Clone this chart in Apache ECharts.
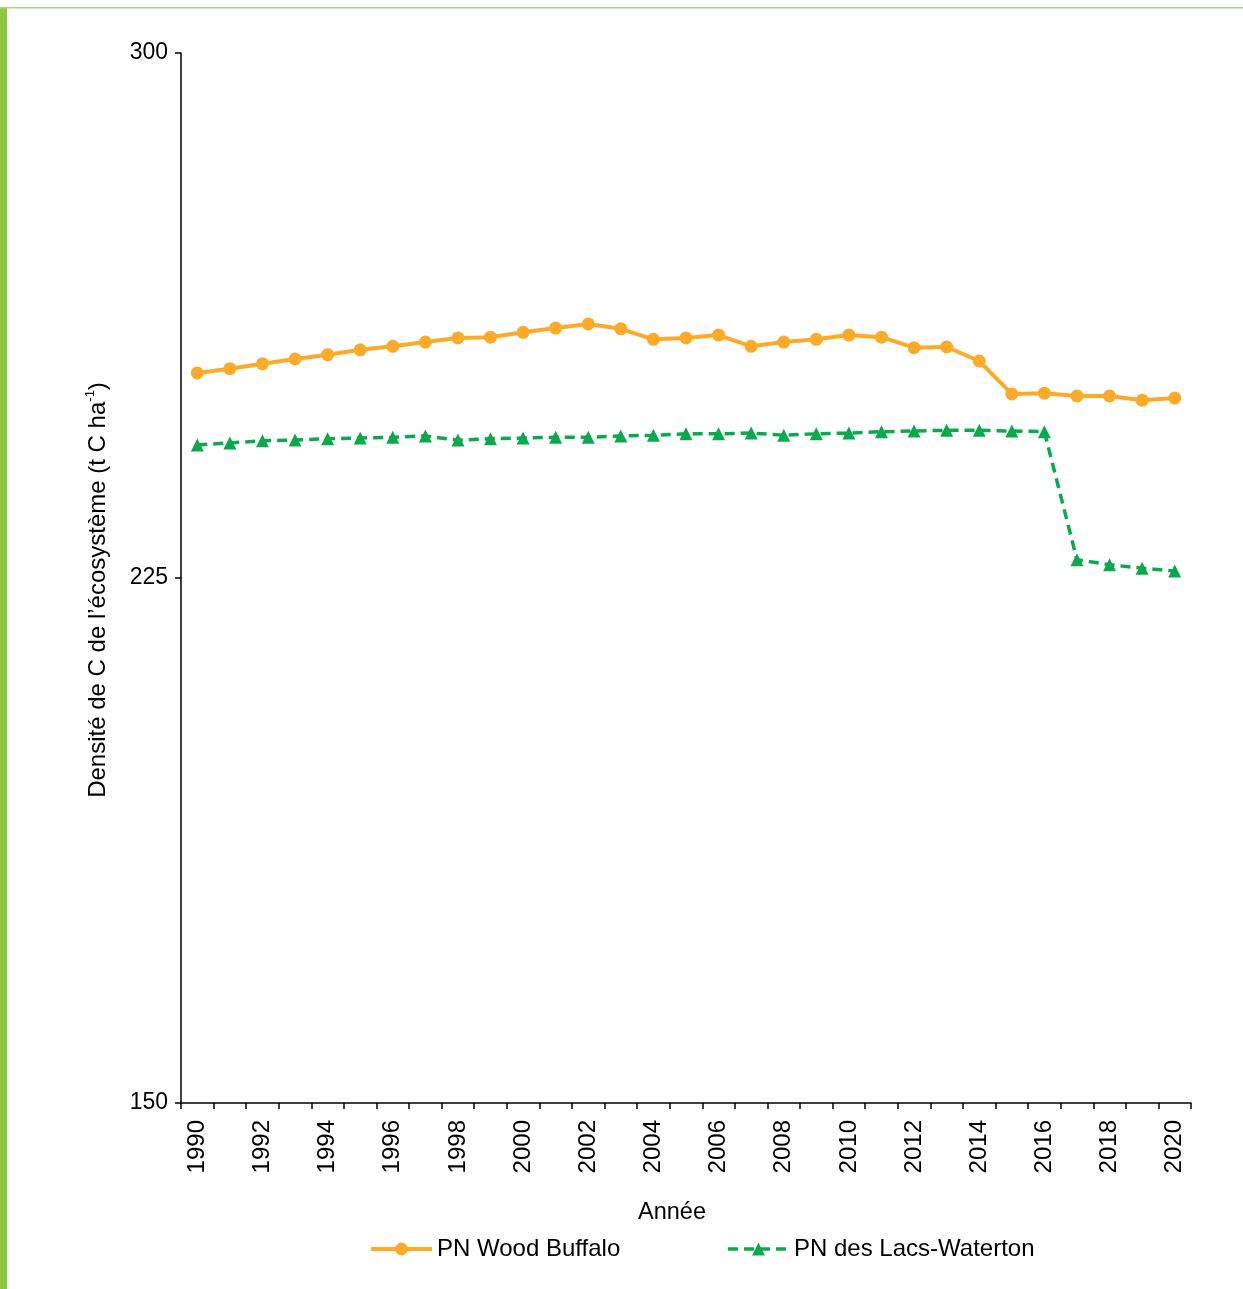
<!DOCTYPE html>
<html>
<head>
<meta charset="utf-8">
<script src="https://cdn.jsdelivr.net/npm/echarts@6/dist/echarts.min.js"></script>
<style>
html,body{margin:0;padding:0;background:#fff;}
#main{width:1243px;height:1289px;}
</style>
</head>
<body>
<div id="main"></div>
<script>
const years = ['1990','1991','1992','1993','1994','1995','1996','1997','1998','1999','2000','2001','2002','2003','2004','2005','2006','2007','2008','2009','2010','2011','2012','2013','2014','2015','2016','2017','2018','2019','2020'];
const woodBuffalo = [254.3,254.9,255.6,256.3,256.9,257.6,258.1,258.7,259.3,259.4,260.1,260.7,261.3,260.6,259.1,259.3,259.7,258.1,258.7,259.1,259.7,259.4,257.9,258.0,256.0,251.3,251.4,251.0,251.0,250.4,250.7];
const waterton = [244.0,244.3,244.6,244.7,244.9,245.0,245.1,245.3,244.7,244.9,245.0,245.1,245.1,245.3,245.4,245.6,245.6,245.7,245.4,245.6,245.7,245.9,246.0,246.1,246.1,246.0,245.9,227.6,226.9,226.4,226.0];
const yTicks = [150, 225, 300];
const seriesNames = ['PN Wood Buffalo', 'PN des Lacs-Waterton'];

const orange = '#FBAB28';
const green = '#0AAA4C';
const font = 'Liberation Sans, Arial, Helvetica, sans-serif';

const chart = echarts.init(document.getElementById('main'));
chart.setOption({
  animation: false,
  backgroundColor: '#fff',
  textStyle: {fontFamily: font},
  graphic: [
    {type: 'rect', left: 0, top: 7, shape: {width: 7, height: 1282}, style: {fill: '#8DC63F'}},
    {type: 'rect', left: 0, top: 7, shape: {width: 1243, height: 1.5}, style: {fill: '#A8D57A'}}
  ],
  grid: {left: 181, right: 52, top: 53, bottom: 186, containLabel: false},
  legend: {
    left: 364, top: 1232,
    itemWidth: 61, itemHeight: 16, itemGap: 106,
    textStyle: {fontSize: 24, color: '#000', fontFamily: font},
    data: [
      {name: seriesNames[0], lineStyle: {width: 4}},
      {name: seriesNames[1], lineStyle: {width: 3.5, type: [10, 6]}}
    ]
  },
  xAxis: {
    type: 'category',
    data: years,
    boundaryGap: true,
    name: 'Année',
    nameLocation: 'middle',
    nameGap: 98,
    nameTextStyle: {fontSize: 23.5, color: '#000', fontFamily: font, padding: [0, 28, 0, 0]},
    axisLine: {lineStyle: {color: '#000', width: 1.5}},
    axisTick: {show: true, inside: false, length: 6, alignWithLabel: false, interval: 0, lineStyle: {color: '#000', width: 1.5}},
    axisLabel: {rotate: 90, interval: 1, fontSize: 24, color: '#000', margin: 17, fontFamily: font},
    splitLine: {show: false}
  },
  yAxis: {
    type: 'value',
    min: 150, max: 300, interval: 75,
    name: 'Densité de C de l’écosystème (t C ha{sup|-1})',
    nameLocation: 'middle',
    nameGap: 69,
    nameTextStyle: {
      fontSize: 24, color: '#000', fontFamily: font, lineHeight: 28,
      padding: [0, 24, 0, 0],
      rich: {sup: {fontSize: 13, verticalAlign: 'top', lineHeight: 28, color: '#000', fontFamily: font}}
    },
    axisLine: {show: true, lineStyle: {color: '#000', width: 1.5}},
    axisTick: {show: true, inside: false, length: 6, lineStyle: {color: '#000', width: 1.5}},
    axisLabel: {fontSize: 23, color: '#000', margin: 13, fontFamily: font,
      formatter: v => yTicks.includes(v) ? String(v) : ''},
    splitLine: {show: false}
  },
  series: [
    {
      name: seriesNames[0],
      type: 'line',
      data: woodBuffalo,
      symbol: 'circle',
      symbolSize: 13,
      itemStyle: {color: orange},
      lineStyle: {color: orange, width: 4}
    },
    {
      name: seriesNames[1],
      type: 'line',
      data: waterton,
      symbol: 'triangle',
      symbolSize: 13,
      itemStyle: {color: green},
      lineStyle: {color: green, width: 3.5, type: [10, 6]}
    }
  ]
});
</script>
</body>
</html>
